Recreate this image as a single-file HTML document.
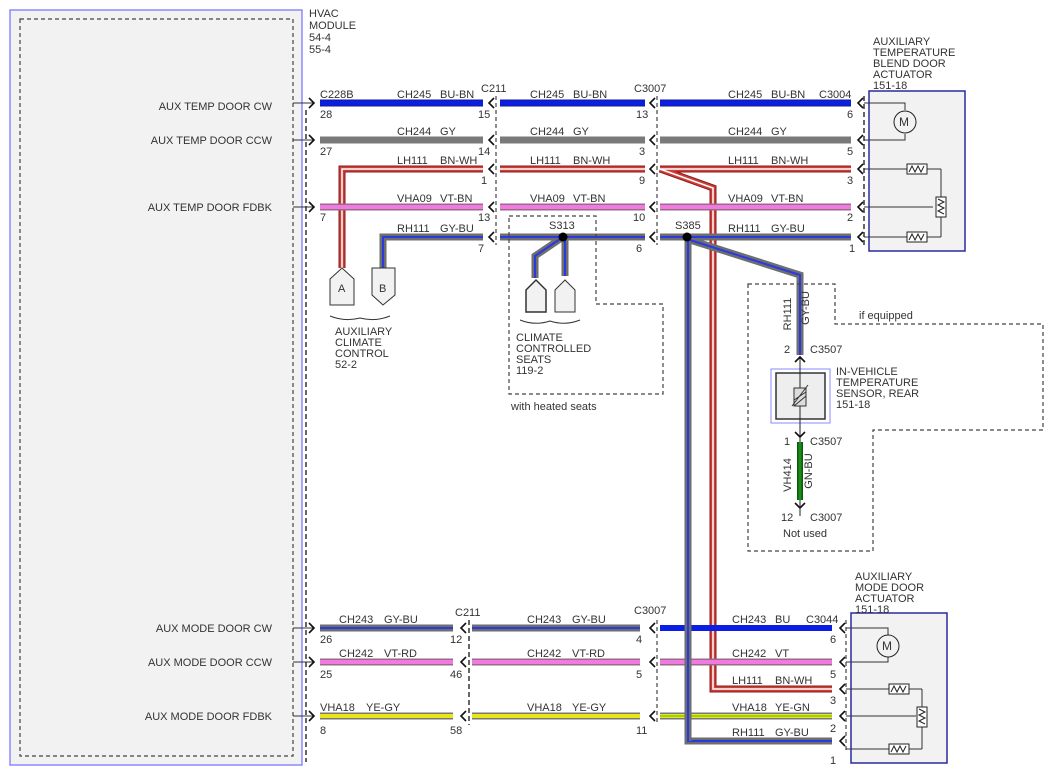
<!DOCTYPE html>
<html><head><meta charset="utf-8"><style>
html,body{margin:0;padding:0;background:#fff;}
svg{display:block;font-family:"Liberation Sans",sans-serif;font-size:11px;fill:#333;}
.t{fill:#333;}
.d{fill:none;stroke:#444;stroke-width:1.2;stroke-dasharray:4,3;}
.dd{fill:none;stroke:#333;stroke-width:1.5;stroke-dasharray:5,3;}
.ch{fill:none;stroke:#111;stroke-width:1.6;}
.ln{fill:none;stroke:#333;stroke-width:1;}
</style></head><body>
<svg width="1054" height="776" viewBox="0 0 1054 776" xmlns="http://www.w3.org/2000/svg">
<rect x="10" y="10" width="292" height="755" fill="#f2f2f2" stroke="#8a8aff" stroke-width="1.5"/>
<rect x="20" y="19" width="273" height="737" class="d"/>
<g class="t">
<text x="309" y="17">HVAC</text><text x="309" y="29">MODULE</text><text x="309" y="41">54-4</text><text x="309" y="53">55-4</text>
<text x="272" y="110" text-anchor="end">AUX TEMP DOOR CW</text>
<text x="272" y="144" text-anchor="end">AUX TEMP DOOR CCW</text>
<text x="272" y="211" text-anchor="end">AUX TEMP DOOR FDBK</text>
<text x="272" y="632" text-anchor="end">AUX MODE DOOR CW</text>
<text x="272" y="666" text-anchor="end">AUX MODE DOOR CCW</text>
<text x="272" y="720" text-anchor="end">AUX MODE DOOR FDBK</text>
</g>
<line x1="306" y1="110" x2="306" y2="762" class="dd"/>
<line x1="496" y1="96" x2="496" y2="245" class="d"/>
<line x1="657" y1="96" x2="657" y2="245" class="d"/>
<line x1="864" y1="96" x2="864" y2="245" class="dd"/>
<line x1="469" y1="620" x2="469" y2="725" class="dd"/>
<line x1="657" y1="620" x2="657" y2="725" class="d"/>
<line x1="846" y1="620" x2="846" y2="752" class="d"/>
<g class="ln">
<line x1="293" y1="103" x2="314" y2="103"/><line x1="293" y1="140" x2="314" y2="140"/><line x1="293" y1="207" x2="314" y2="207"/>
<line x1="293" y1="628" x2="314" y2="628"/><line x1="293" y1="662" x2="314" y2="662"/><line x1="293" y1="716" x2="314" y2="716"/>
</g>
<g class="ch">
<path d="M309,98 L314,103 L309,108"/><path d="M309,135 L314,140 L309,145"/><path d="M309,202 L314,207 L309,212"/>
<path d="M309,623 L314,628 L309,633"/><path d="M309,657 L314,662 L309,667"/><path d="M309,711 L314,716 L309,721"/>
</g>
<g class="ch">
<path d="M494,98 L489,103 L494,108"/><path d="M494,135 L489,140 L494,145"/><path d="M494,164 L489,169 L494,174"/><path d="M494,202 L489,207 L494,212"/><path d="M494,232 L489,237 L494,242"/>
<path d="M655,98 L650,103 L655,108"/><path d="M655,135 L650,140 L655,145"/><path d="M655,164 L650,169 L655,174"/><path d="M655,202 L650,207 L655,212"/><path d="M655,232 L650,237 L655,242"/>
<path d="M863,98 L858,103 L863,108"/><path d="M863,135 L858,140 L863,145"/><path d="M863,164 L858,169 L863,174"/><path d="M863,202 L858,207 L863,212"/><path d="M863,232 L858,237 L863,242"/>
<path d="M466,623 L461,628 L466,633"/><path d="M466,657 L461,662 L466,667"/><path d="M466,711 L461,716 L466,721"/>
<path d="M655,623 L650,628 L655,633"/><path d="M655,657 L650,662 L655,667"/><path d="M655,711 L650,716 L655,721"/>
<path d="M845,623 L840,628 L845,633"/><path d="M845,657 L840,662 L845,667"/><path d="M845,684 L840,689 L845,694"/><path d="M845,711 L840,716 L845,721"/><path d="M845,736 L840,741 L845,746"/>
</g>
<g fill="none">
<g stroke="#1a1a80" stroke-width="7"><line x1="320" y1="103" x2="483" y2="103"/><line x1="500" y1="103" x2="645" y2="103"/><line x1="660" y1="103" x2="851" y2="103"/></g>
<g stroke="#0a1ee6" stroke-width="5"><line x1="320" y1="103" x2="483" y2="103"/><line x1="500" y1="103" x2="645" y2="103"/><line x1="660" y1="103" x2="851" y2="103"/></g>
<g stroke="#7a7a7a" stroke-width="7"><line x1="320" y1="140" x2="483" y2="140"/><line x1="500" y1="140" x2="645" y2="140"/><line x1="660" y1="140" x2="851" y2="140"/></g>
<g stroke="#8a1a1a" stroke-width="7" stroke-linejoin="miter"><polyline points="483,169 342,169 342,268"/><line x1="500" y1="169" x2="645" y2="169"/><polyline points="660,169 851,169"/><polyline points="660,169 713,188 713,689 832,689"/></g>
<g stroke="#c9403a" stroke-width="5"><polyline points="483,169 342,169 342,268"/><line x1="500" y1="169" x2="645" y2="169"/><polyline points="660,169 851,169"/><polyline points="660,169 713,188 713,689 832,689"/></g>
<g stroke="#fff" stroke-width="1.5"><polyline points="483,169 342,169 342,268"/><line x1="500" y1="169" x2="645" y2="169"/><line x1="660" y1="169" x2="851" y2="169"/><polyline points="660,169 713,188 713,689 832,689"/></g>
<g stroke="#9a6a8a" stroke-width="7"><line x1="320" y1="207" x2="483" y2="207"/><line x1="500" y1="207" x2="645" y2="207"/><line x1="660" y1="207" x2="851" y2="207"/></g>
<g stroke="#f07ae0" stroke-width="4"><line x1="320" y1="207" x2="483" y2="207"/><line x1="500" y1="207" x2="645" y2="207"/><line x1="660" y1="207" x2="851" y2="207"/></g>
<g stroke="#6e6e6e" stroke-width="7"><polyline points="483,237 383,237 383,268"/><line x1="500" y1="237" x2="645" y2="237"/><line x1="660" y1="237" x2="851" y2="237"/>
<polyline points="563,237 535,256 535,278"/><line x1="565" y1="237" x2="565" y2="276"/>
<polyline points="690,240 800,275 800,355"/><polyline points="688,237 688,741 832,741"/></g>
<g stroke="#2a3adf" stroke-width="2"><polyline points="483,237 383,237 383,268"/><line x1="500" y1="237" x2="645" y2="237"/><line x1="660" y1="237" x2="851" y2="237"/>
<polyline points="563,237 535,256 535,278"/><line x1="565" y1="237" x2="565" y2="276"/>
<polyline points="690,240 800,275 800,355"/><polyline points="688,237 688,741 832,741"/></g>
<g stroke="#6e6e6e" stroke-width="7"><line x1="320" y1="628" x2="453" y2="628"/><line x1="472" y1="628" x2="640" y2="628"/></g>
<g stroke="#2a3adf" stroke-width="2"><line x1="320" y1="628" x2="453" y2="628"/><line x1="472" y1="628" x2="640" y2="628"/></g>
<line x1="660" y1="628" x2="832" y2="628" stroke="#0a1ee6" stroke-width="6"/>
<g stroke="#9a6a8a" stroke-width="7"><line x1="320" y1="662" x2="453" y2="662"/><line x1="472" y1="662" x2="640" y2="662"/><line x1="660" y1="662" x2="832" y2="662"/></g>
<g stroke="#f07ae0" stroke-width="4"><line x1="320" y1="662" x2="453" y2="662"/><line x1="472" y1="662" x2="640" y2="662"/><line x1="660" y1="662" x2="832" y2="662"/></g>
<g stroke="#777" stroke-width="7"><line x1="320" y1="716" x2="453" y2="716"/><line x1="472" y1="716" x2="640" y2="716"/><line x1="660" y1="716" x2="832" y2="716"/></g>
<g stroke="#e8e818" stroke-width="4"><line x1="320" y1="716" x2="453" y2="716"/><line x1="472" y1="716" x2="640" y2="716"/><line x1="660" y1="716" x2="832" y2="716"/></g>
<line x1="660" y1="716" x2="832" y2="716" stroke="#5ab02a" stroke-width="1"/>
<g stroke="#6e6e6e" stroke-width="7"><line x1="688" y1="600" x2="688" y2="741"/></g>
<g stroke="#2a3adf" stroke-width="2"><line x1="688" y1="600" x2="688" y2="741"/></g>
<line x1="800" y1="442" x2="800" y2="500" stroke="#0c5a0c" stroke-width="6"/>
<line x1="800" y1="442" x2="800" y2="500" stroke="#1c8a1c" stroke-width="3"/>
</g>
<circle cx="563" cy="237" r="4.5" fill="#000"/>
<circle cx="687" cy="237" r="4.5" fill="#000"/>
<path d="M330,279 L342,268 L354,279 L354,305 L330,305 Z" fill="#f2f2f2" stroke="#333"/>
<path d="M372,268 L395,268 L395,295 L383,305 L372,295 Z" fill="#f2f2f2" stroke="#333"/>
<text x="338" y="292">A</text><text x="379" y="292">B</text>
<path d="M330,316 Q345,322 360,318 Q375,322 390,316" fill="none" stroke="#333"/>
<g class="t"><text x="335" y="335">AUXILIARY</text><text x="335" y="346">CLIMATE</text><text x="335" y="357">CONTROL</text><text x="335" y="368">52-2</text></g>
<path d="M526,290 L536,280 L546,290 L546,312 L526,312 Z" fill="#f2f2f2" stroke="#333" stroke-width="1.5"/>
<path d="M555,290 L565,280 L575,290 L575,312 L555,312 Z" fill="#f2f2f2" stroke="#333"/>
<path d="M520,320 Q535,326 550,321 Q565,326 580,320" fill="none" stroke="#333"/>
<g class="t"><text x="516" y="341">CLIMATE</text><text x="516" y="352">CONTROLLED</text><text x="516" y="363">SEATS</text><text x="516" y="374">119-2</text>
<text x="511" y="410">with heated seats</text></g>
<path d="M509,216 L596,216 L596,304 L663,304 L663,394 L509,394 Z" class="d"/>
<path d="M748,284 L835,284 L835,324 L1043,324 L1043,430 L873,430 L873,551 L748,551 Z" class="d"/>
<text x="859" y="319">if equipped</text>
<g class="t">
<text x="785" y="308" transform="rotate(-90 791 308)" text-anchor="middle">RH111</text>
<text x="809" y="308" transform="rotate(-90 809 308)" text-anchor="middle">GY-BU</text>
<text x="784" y="353">2</text><text x="810" y="353">C3507</text>
<text x="784" y="445">1</text><text x="810" y="445">C3507</text>
<text x="787" y="471" transform="rotate(-90 791 471)" text-anchor="middle">VH414</text>
<text x="812" y="471" transform="rotate(-90 812 471)" text-anchor="middle">GN-BU</text>
<text x="781" y="521">12</text><text x="810" y="521">C3007</text>
<text x="783" y="537">Not used</text>
<text x="836" y="375">IN-VEHICLE</text><text x="836" y="386">TEMPERATURE</text><text x="836" y="397">SENSOR, REAR</text><text x="836" y="408">151-18</text>
</g>
<rect x="771" y="369" width="59" height="54" fill="none" stroke="#8a8aff"/>
<rect x="776" y="373" width="49" height="46" fill="#eee" stroke="#333" stroke-width="1.5"/>
<line x1="800" y1="356" x2="800" y2="442" stroke="#222"/>
<path d="M795,362 L800,357 L805,362" class="ch"/>
<path d="M795,432 L800,437 L805,432" class="ch"/>
<path d="M795,503 L800,508 L805,503" class="ch"/>
<line x1="800" y1="500" x2="800" y2="516" stroke="#222"/>
<rect x="794" y="388" width="12" height="18" fill="#ddd" stroke="#333"/>
<path d="M794,400 L806,392 M794,406 L806,396 M792,406 L808,385" stroke="#333" fill="none"/>
<rect x="869" y="91" width="96" height="160" fill="#f2f2f2" stroke="#2a2aa0" stroke-width="1.5"/>
<g class="ln">
<polyline points="864,103 905,103 905,110"/><polyline points="864,140 905,140 905,134"/>
<polyline points="864,169 907,169"/><line x1="927" y1="169" x2="941" y2="169"/><line x1="941" y1="169" x2="941" y2="237"/>
<polyline points="864,237 907,237"/><line x1="927" y1="237" x2="941" y2="237"/>
<line x1="864" y1="207" x2="933" y2="207"/>
</g>
<circle cx="905" cy="122" r="11" fill="#f2f2f2" stroke="#222"/><text x="899" y="126" font-size="12">M</text>
<rect x="907" y="164" width="20" height="10" fill="#fff" stroke="#222"/><path d="M909,172 L912,166 L915,172 L918,166 L921,172 L924,166" fill="none" stroke="#222"/>
<rect x="907" y="232" width="20" height="10" fill="#fff" stroke="#222"/><path d="M909,240 L912,234 L915,240 L918,234 L921,240 L924,234" fill="none" stroke="#222"/>
<rect x="936" y="197" width="10" height="20" fill="#fff" stroke="#222"/><path d="M938,199 L944,202 L938,205 L944,208 L938,211 L944,214" fill="none" stroke="#222"/>
<g class="t"><text x="873" y="45">AUXILIARY</text><text x="873" y="56">TEMPERATURE</text><text x="873" y="67">BLEND DOOR</text><text x="873" y="78">ACTUATOR</text><text x="873" y="89">151-18</text></g>
<rect x="851" y="613" width="96" height="150" fill="#f2f2f2" stroke="#2a2aa0" stroke-width="1.5"/>
<g class="ln">
<polyline points="846,628 888,628 888,636"/><polyline points="846,662 888,662 888,656"/>
<polyline points="846,689 889,689"/><line x1="909" y1="689" x2="922" y2="689"/><line x1="922" y1="689" x2="922" y2="749"/>
<polyline points="846,749 889,749"/><line x1="909" y1="749" x2="922" y2="749"/>
<line x1="846" y1="716" x2="916" y2="716"/>
</g>
<circle cx="888" cy="646" r="11" fill="#f2f2f2" stroke="#222"/><text x="882" y="650" font-size="12">M</text>
<rect x="889" y="684" width="20" height="10" fill="#fff" stroke="#222"/><path d="M891,692 L894,686 L897,692 L900,686 L903,692 L906,686" fill="none" stroke="#222"/>
<rect x="889" y="744" width="20" height="10" fill="#fff" stroke="#222"/><path d="M891,752 L894,746 L897,752 L900,746 L903,752 L906,746" fill="none" stroke="#222"/>
<rect x="917" y="707" width="10" height="20" fill="#fff" stroke="#222"/><path d="M919,709 L925,712 L919,715 L925,718 L919,721 L925,724" fill="none" stroke="#222"/>
<g class="t"><text x="855" y="580">AUXILIARY</text><text x="855" y="591">MODE DOOR</text><text x="855" y="602">ACTUATOR</text><text x="855" y="613">151-18</text></g>
<g class="t">
<text x="320" y="98">C228B</text><text x="481" y="92">C211</text><text x="634" y="92">C3007</text><text x="819" y="98">C3004</text>
<text x="397" y="98">CH245</text><text x="440" y="98">BU-BN</text><text x="530" y="98">CH245</text><text x="573" y="98">BU-BN</text><text x="728" y="98">CH245</text><text x="771" y="98">BU-BN</text>
<text x="320" y="118">28</text><text x="478" y="118">15</text><text x="636" y="118">13</text><text x="847" y="118">6</text>
<text x="397" y="135">CH244</text><text x="440" y="135">GY</text><text x="530" y="135">CH244</text><text x="573" y="135">GY</text><text x="728" y="135">CH244</text><text x="771" y="135">GY</text>
<text x="320" y="155">27</text><text x="478" y="155">14</text><text x="639" y="155">3</text><text x="847" y="155">5</text>
<text x="397" y="164">LH111</text><text x="440" y="164">BN-WH</text><text x="530" y="164">LH111</text><text x="573" y="164">BN-WH</text><text x="728" y="164">LH111</text><text x="771" y="164">BN-WH</text>
<text x="481" y="184">1</text><text x="639" y="184">9</text><text x="847" y="184">3</text>
<text x="397" y="202">VHA09</text><text x="440" y="202">VT-BN</text><text x="530" y="202">VHA09</text><text x="573" y="202">VT-BN</text><text x="728" y="202">VHA09</text><text x="771" y="202">VT-BN</text>
<text x="320" y="221">7</text><text x="478" y="221">13</text><text x="633" y="221">10</text><text x="847" y="221">2</text>
<text x="397" y="232">RH111</text><text x="440" y="232">GY-BU</text><text x="549" y="229">S313</text><text x="675" y="229">S385</text><text x="728" y="232">RH111</text><text x="771" y="232">GY-BU</text>
<text x="478" y="252">7</text><text x="636" y="252">6</text><text x="849" y="252">1</text>
</g>
<g class="t">
<text x="339" y="623">CH243</text><text x="384" y="623">GY-BU</text><text x="455" y="616">C211</text><text x="527" y="623">CH243</text><text x="572" y="623">GY-BU</text><text x="634" y="614">C3007</text>
<text x="732" y="623">CH243</text><text x="775" y="623">BU</text><text x="806" y="623">C3044</text>
<text x="320" y="643">26</text><text x="450" y="643">12</text><text x="636" y="643">4</text><text x="830" y="643">6</text>
<text x="339" y="657">CH242</text><text x="384" y="657">VT-RD</text><text x="527" y="657">CH242</text><text x="572" y="657">VT-RD</text><text x="732" y="657">CH242</text><text x="775" y="657">VT</text>
<text x="320" y="678">25</text><text x="450" y="678">46</text><text x="636" y="678">5</text><text x="830" y="678">5</text>
<text x="732" y="684">LH111</text><text x="775" y="684">BN-WH</text><text x="830" y="704">3</text>
<text x="320" y="711">VHA18</text><text x="366" y="711">YE-GY</text><text x="527" y="711">VHA18</text><text x="572" y="711">YE-GY</text><text x="732" y="711">VHA18</text><text x="775" y="711">YE-GN</text>
<text x="320" y="734">8</text><text x="450" y="734">58</text><text x="636" y="734">11</text><text x="830" y="732">2</text>
<text x="732" y="736">RH111</text><text x="775" y="736">GY-BU</text><text x="830" y="764">1</text>
</g>
</svg>
</body></html>
